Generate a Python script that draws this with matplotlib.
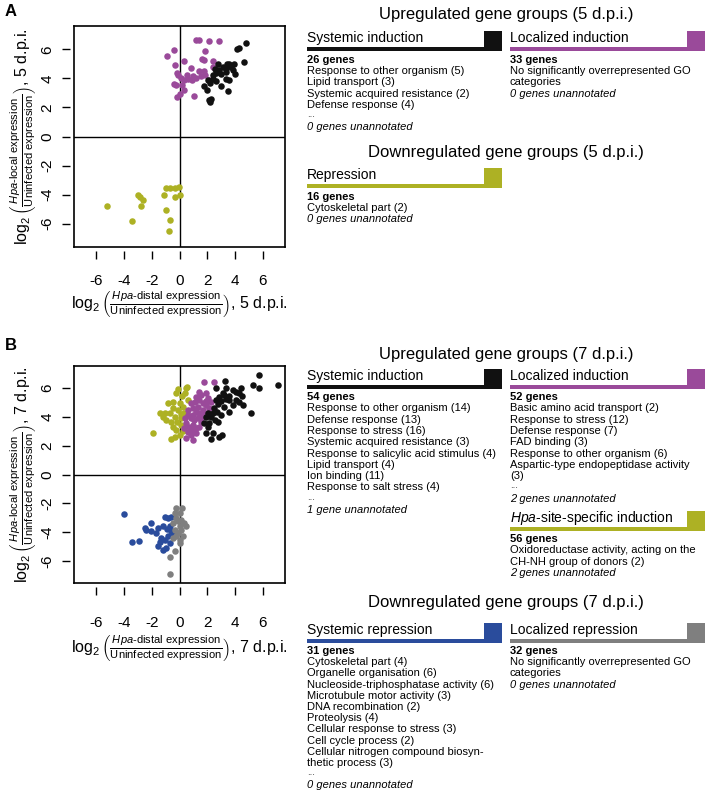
import matplotlib
matplotlib.use("Agg")
import matplotlib.pyplot as plt
from matplotlib.patches import Rectangle

# ---- scatter data, panel A (5 d.p.i.) ----
a_sys_x = [4.80, 4.27, 4.15, 4.68, 3.43, 3.60, 2.76, 3.96, 2.59, 2.88, 3.12, 3.36, 3.72, 2.64, 3.00, 2.40,
           3.36, 3.84, 4.03, 2.04, 2.40, 2.64, 2.20, 3.36, 3.60, 3.00, 1.73, 1.97, 3.48, 2.16, 2.28, 2.20]
a_sys_y = [6.44, 6.11, 6.05, 5.10, 5.01, 5.01, 5.01, 5.01, 4.67, 4.55, 4.78, 4.67, 4.78, 4.37, 4.32, 4.20,
           4.44, 4.55, 4.32, 3.86, 3.98, 3.82, 3.68, 3.98, 3.91, 3.45, 3.45, 3.17, 3.13, 2.48, 2.60, 2.37]
a_loc_x = [-0.41, -0.89, 1.20, 1.39, 2.11, 2.88, 1.85, -0.31, 0.31, 1.63, 1.73, 2.40, 2.40, 0.84, -0.19, -0.12,
           0.53, 0.96, 1.44, 1.56, 0.12, 0.62, 1.20, 0.91, -0.41, -0.24, 0.19, 0.29, 0.00, -0.19, 1.03, 1.85,
           2.16, 0.36, 1.73]
a_loc_y = [5.98, 5.52, 6.62, 6.62, 6.55, 6.55, 5.88, 4.90, 5.20, 5.36, 5.29, 5.20, 4.78, 4.74, 4.37, 4.20,
           4.20, 4.14, 4.50, 4.14, 4.05, 3.95, 4.05, 3.86, 3.63, 3.52, 3.52, 3.22, 2.94, 2.71, 2.76, 4.20,
           3.86, 3.86, 4.48]
a_rep_x = [-5.23, -3.00, -2.83, -2.64, -2.76, -3.40, -0.96, -0.72, -0.29, -0.05, -1.13, -0.34, 0.00, -0.96, -0.65, -0.77]
a_rep_y = [-4.76, -4.02, -4.19, -4.34, -4.80, -5.84, -3.54, -3.54, -3.54, -3.50, -4.00, -4.18, -4.02, -5.03, -5.72, -6.48]

# ---- scatter data, panel B (7 d.p.i.) ----
b_sys_x = [5.76, 7.07, 5.28, 5.76, 4.44, 3.31, 2.64, 3.36, 3.84, 4.32, 4.08, 4.51, 4.32, 4.56, 5.16, 3.60,
           3.36, 3.00, 3.60, 3.24, 2.88, 2.64, 3.12, 3.60, 2.52, 2.40, 2.28, 2.59, 2.16, 2.04, 2.76, 1.92,
           2.40, 2.88, 3.07, 2.28, 1.73, 2.04, 1.92, 3.84, 4.08, 2.80, 3.20, 2.70, 3.00]
b_sys_y = [6.88, 6.19, 6.19, 6.00, 6.00, 6.48, 5.95, 5.95, 5.83, 5.60, 5.72, 5.43, 5.03, 4.80, 4.28, 4.34,
           5.20, 5.08, 5.40, 5.52, 5.38, 5.15, 5.60, 5.15, 4.57, 4.23, 4.00, 3.77, 3.54, 3.31, 3.65, 2.85,
           2.85, 2.62, 2.74, 2.44, 3.54, 4.23, 4.00, 4.80, 5.15, 4.90, 4.70, 4.35, 4.10]
b_loc_x = [1.73, 2.52, 1.44, 1.92, 1.56, 2.04, 1.20, 1.44, 1.68, 1.32, 1.92, 0.96, 1.20, 1.44, 1.68, 1.80,
           0.60, 0.84, 1.08, 1.32, 1.56, 0.48, 0.72, 0.96, 1.20, 1.44, 0.60, 0.91, 1.20, 0.48, 1.00, 2.28,
           2.11, 0.60, 0.84, 1.10, 1.60, 0.35, 0.80, 1.90, 0.40, 1.00]
b_loc_y = [6.41, 6.41, 5.72, 5.61, 5.49, 5.26, 5.38, 5.15, 4.92, 4.69, 4.80, 4.57, 4.34, 4.23, 4.46, 4.11,
           4.11, 3.88, 3.77, 3.88, 3.65, 3.54, 3.31, 3.42, 3.20, 3.31, 2.97, 3.08, 2.85, 2.51, 2.39, 5.03,
           4.57, 4.46, 4.92, 5.00, 4.00, 3.20, 2.70, 5.10, 3.90, 4.10]
b_hpa_x = [-1.92, -1.08, -0.72, -0.48, 0.00, -0.24, 0.55, -0.96, -0.60, -0.36, -0.48, -0.24, 0.12, -0.60, -0.36, 0.00,
           0.24, 0.36, 0.12, 0.60, -0.12, -0.48, -0.84, -1.44, 0.48, 0.20, -0.10, 0.40, -0.20, 0.25, -1.20, 0.10]
b_hpa_y = [2.90, 4.23, 4.23, 5.03, 4.97, 5.61, 6.07, 3.77, 3.65, 4.00, 3.31, 3.08, 3.42, 2.44, 2.62, 2.74,
           4.69, 4.23, 3.88, 5.15, 4.46, 4.57, 4.92, 4.23, 6.00, 5.40, 5.90, 5.60, 3.60, 3.00, 4.00, 4.20]
b_srep_x = [-4.00, -2.52, -2.40, -2.04, -1.68, -3.41, -2.93, -1.56, -1.20, -1.08, -0.84, -0.60, -1.32, -1.08, -0.84,
            -1.56, -1.20, -0.96, -0.72, -0.60, -2.04, -0.72, -0.48, -1.40, -0.90]
b_srep_y = [-2.71, -3.70, -3.82, -3.93, -4.05, -4.69, -4.62, -3.70, -3.59, -2.94, -3.01, -2.94, -4.39, -4.51, -4.28,
            -4.97, -5.20, -5.08, -4.74, -3.93, -3.36, -3.59, -4.05, -4.70, -3.80]
b_lrep_x = [-0.24, 0.19, -0.36, 0.00, -0.24, 0.12, 0.36, 0.00, 0.48, -0.36, -0.12, 0.12, -0.24, -0.48, 0.00, 0.24,
            0.00, -0.29, -0.72, -0.65, -0.48, -0.12]
b_lrep_y = [-2.32, -2.32, -2.67, -2.67, -3.01, -3.13, -3.36, -3.59, -3.54, -3.82, -4.05, -3.82, -4.28, -4.39, -4.51, -4.28,
            -4.74, -5.31, -5.70, -6.90, -3.36, -3.24]

ticks = [-6, -4, -2, 0, 2, 4, 6]

# ---- GO term text ----
a_sys_terms = ["Response to other organism (5)", "Lipid transport (3)",
               "Systemic acquired resistance (2)", "Defense response (4)"]
a_loc_terms = ["No significantly overrepresented GO", "categories"]
a_rep_terms = ["Cytoskeletal part (2)"]
b_sys_terms = ["Response to other organism (14)", "Defense response (13)", "Response to stress (16)",
               "Systemic acquired resistance (3)", "Response to salicylic acid stimulus (4)",
               "Lipid transport (4)", "Ion binding (11)", "Response to salt stress (4)"]
b_loc_terms = ["Basic amino acid transport (2)", "Response to stress (12)", "Defense response (7)",
               "FAD binding (3)", "Response to other organism (6)", "Aspartic-type endopeptidase activity", "(3)"]
b_hpa_terms = ["Oxidoreductase activity, acting on the", "CH-NH group of donors (2)"]
b_srep_terms = ["Cytoskeletal part (4)", "Organelle organisation (6)", "Nucleoside-triphosphatase activity (6)",
                "Microtubule motor activity (3)", "DNA recombination (2)", "Proteolysis (4)",
                "Cellular response to stress (3)", "Cell cycle process (2)",
                "Cellular nitrogen compound biosyn-", "thetic process (3)"]
b_lrep_terms = ["No significantly overrepresented GO", "categories"]

BLACK = "#111111"
MAGENTA = "#9a4a9a"
OLIVE = "#adb124"
BLUE = "#2a4c9c"
GREY = "#7f7f7f"

plt.rcParams["font.family"] = ["Liberation Sans", "DejaVu Sans"]
plt.rcParams["mathtext.fontset"] = "custom"
plt.rcParams["mathtext.rm"] = "Liberation Sans"
plt.rcParams["mathtext.it"] = "Liberation Sans:italic"
plt.rcParams["mathtext.bf"] = "Liberation Sans:bold"
plt.rcParams["axes.unicode_minus"] = False

W, H = 708, 794
fig = plt.figure(figsize=(W / 100, H / 100), dpi=100)


def fx(p):
    return p / W


def fy(p):
    return 1 - p / H


def bare_axes(rect):
    a = fig.add_axes(rect)
    a.patch.set_visible(False)
    for s in a.spines.values():
        s.set_visible(False)
    return a


def scatter_panel(top, bottom, groups, ylim, dpi_label, xpad, xlab_off):
    left, right = 74, 285
    w = (right - left) / W
    h = (bottom - top) / H
    ax = fig.add_axes([fx(left), fy(bottom), w, h])
    for xs, ys, c in groups:
        ax.scatter(xs, ys, s=22, c=c, linewidths=0, zorder=3)
    ax.axhline(0, color="black", lw=1, zorder=2)
    ax.axvline(0, color="black", lw=1, zorder=2)
    ax.set_xlim(-7.6, 7.6)
    ax.set_ylim(*ylim)
    ax.set_xticks([])
    ax.set_yticks([])
    for s in ax.spines.values():
        s.set_linewidth(1.2)

    # detached R-style tick marks
    tx = bare_axes([fx(left), fy(bottom + 4), w, 0.5 / H])
    tx.set_xlim(-7.6, 7.6)
    tx.set_xticks(ticks)
    tx.set_yticks([])
    tx.tick_params(axis="x", length=6, width=1, pad=xpad, labelsize=11)
    ty = bare_axes([fx(left - 4.5), fy(bottom), 0.5 / W, h])
    ty.set_ylim(*ylim)
    ty.set_yticks(ticks)
    ty.set_xticks([])
    ty.tick_params(axis="y", length=6, width=1, pad=5, labelsize=11)
    plt.setp(ty.get_yticklabels(), rotation=90, va="center")

    cx = (left + right) / 2
    cy = (top + bottom) / 2
    fig.text(fx(cx), fy(bottom + xlab_off),
             r"$\log_2\left(\frac{\mathit{Hpa}\text{-distal expression}}{\text{Uninfected expression}}\right)$, "
             + dpi_label, fontsize=11.5, ha="center", va="center")
    fig.text(fx(23), fy(cy),
             r"$\log_2\left(\frac{\mathit{Hpa}\text{-local expression}}{\text{Uninfected expression}}\right)$, "
             + dpi_label, fontsize=11.5, ha="center", va="center", rotation=90)
    return ax


def group_header(x0, y, title, color):
    fig.text(fx(x0), fy(y), title, fontsize=10, va="center", ha="left")
    fig.add_artist(Rectangle((fx(x0), fy(y + 13)), 195 / W, 4 / H, transform=fig.transFigure,
                             color=color, lw=0))
    fig.add_artist(Rectangle((fx(x0 + 177), fy(y + 13)), 18 / W, 20 / H, transform=fig.transFigure,
                             color=color, lw=0))


def group_body(x0, y0, n_genes, terms, dots, unannotated, step=11.2):
    y = y0
    fig.text(fx(x0), fy(y), n_genes, fontsize=8, fontweight="bold", va="center")
    for t in terms:
        y += step
        fig.text(fx(x0), fy(y), t, fontsize=8, va="center")
    if dots:
        y += step
        fig.text(fx(x0), fy(y - 2), "...", fontsize=7, va="center", color="#333333")
    y += step
    fig.text(fx(x0), fy(y), unannotated, fontsize=8, style="italic", va="center")


# ---- panel A ----
fig.text(fx(5), fy(12), "A", fontsize=12, fontweight="bold", va="center")
scatter_panel(26, 247, [(a_loc_x, a_loc_y, MAGENTA), (a_sys_x, a_sys_y, BLACK), (a_rep_x, a_rep_y, OLIVE)],
              (-7.6, 7.6), "5 d.p.i.", xpad=10.5, xlab_off=57)
fig.text(fx(506), fy(15), "Upregulated gene groups (5 d.p.i.)", fontsize=12, ha="center", va="center")
group_header(307, 38, "Systemic induction", BLACK)
group_body(307, 60, "26 genes", a_sys_terms, True, "0 genes unannotated")
group_header(510, 38, "Localized induction", MAGENTA)
group_body(510, 60, "33 genes", a_loc_terms, False, "0 genes unannotated")
fig.text(fx(506), fy(153), "Downregulated gene groups (5 d.p.i.)", fontsize=12, ha="center", va="center")
group_header(307, 175, "Repression", OLIVE)
group_body(307, 197, "16 genes", a_rep_terms, False, "0 genes unannotated")

# ---- panel B ----
fig.text(fx(5), fy(346), "B", fontsize=12, fontweight="bold", va="center")
scatter_panel(366, 583, [(b_hpa_x, b_hpa_y, OLIVE), (b_loc_x, b_loc_y, MAGENTA), (b_sys_x, b_sys_y, BLACK),
                         (b_srep_x, b_srep_y, BLUE), (b_lrep_x, b_lrep_y, GREY)],
              (-7.5, 7.5), "7 d.p.i.", xpad=15, xlab_off=65)
fig.text(fx(506), fy(354), "Upregulated gene groups (7 d.p.i.)", fontsize=12, ha="center", va="center")
group_header(307, 376, "Systemic induction", BLACK)
group_body(307, 397, "54 genes", b_sys_terms, True, "1 gene unannotated", step=11.3)
group_header(510, 376, "Localized induction", MAGENTA)
group_body(510, 397, "52 genes", b_loc_terms, True, "2 genes unannotated", step=11.3)
group_header(510, 518, r"$\mathit{Hpa}$-site-specific induction", OLIVE)
group_body(510, 539, "56 genes", b_hpa_terms, False, "2 genes unannotated", step=11.3)
fig.text(fx(506), fy(603), "Downregulated gene groups (7 d.p.i.)", fontsize=12, ha="center", va="center")
group_header(307, 630, "Systemic repression", BLUE)
group_body(307, 651, "31 genes", b_srep_terms, True, "0 genes unannotated")
group_header(510, 630, "Localized repression", GREY)
group_body(510, 651, "32 genes", b_lrep_terms, False, "0 genes unannotated")

fig.savefig("out.png", dpi=100)
